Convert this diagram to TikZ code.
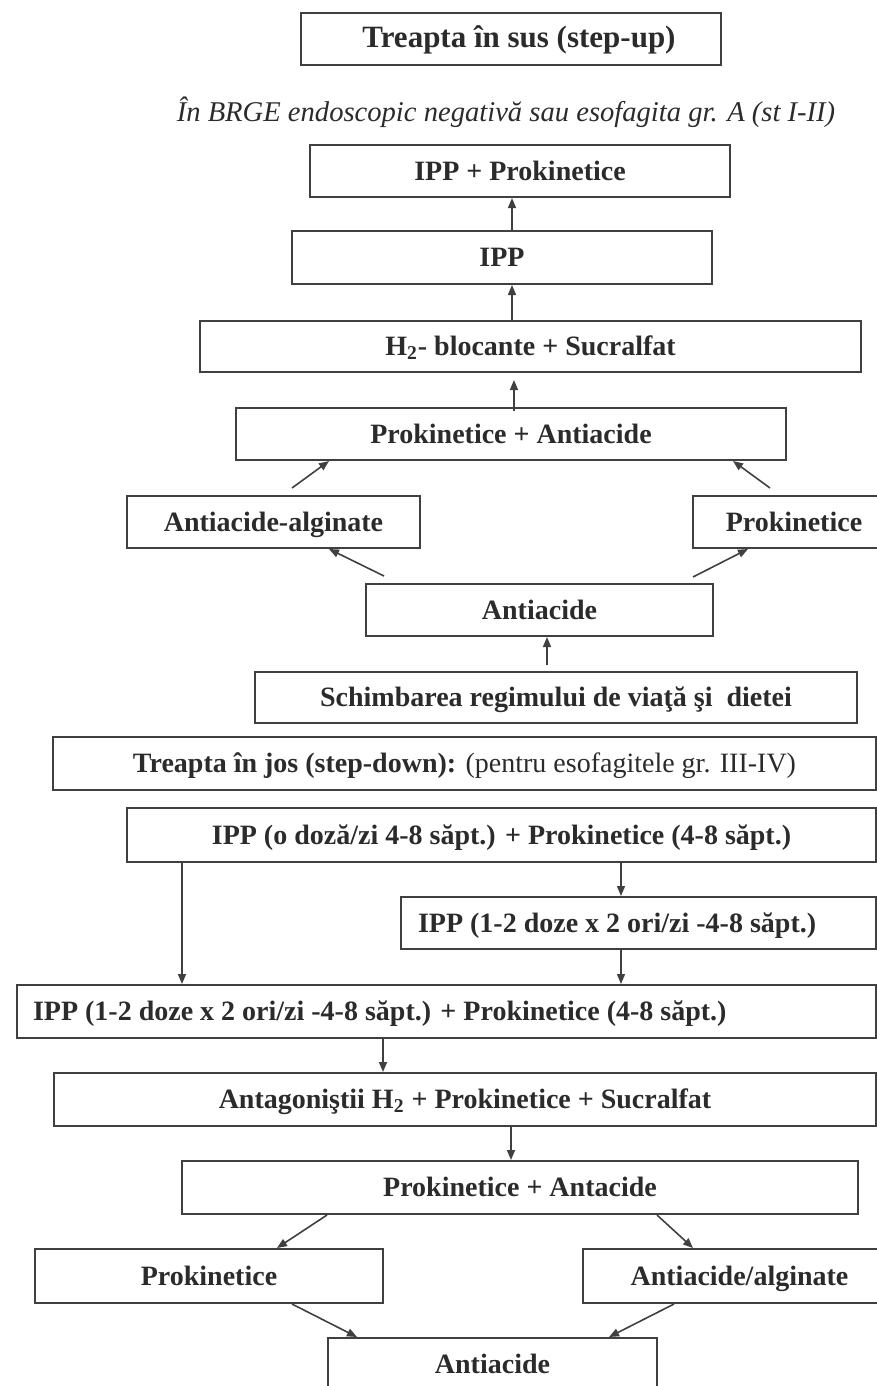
\documentclass[tikz,border=0pt]{standalone}
\usepackage{fontspec}
\setmainfont{Liberation Serif}
\usetikzlibrary{positioning,calc,arrows.meta}
\definecolor{boxline}{HTML}{404040}
\definecolor{boxtext}{HTML}{2B2B2B}

\begin{document}
\begin{tikzpicture}[
    x=0.5pt, y=-0.5pt,
    box/.style={draw=boxline, line width=1pt, inner sep=0pt, minimum height=26pt, text height=9.5pt, text depth=0.5pt, text=boxtext, font=\fontsize{14}{16}\selectfont\bfseries},
    note/.style={text=boxtext, font=\fontsize{14.3}{16}\selectfont\itshape},
    arr/.style={draw=boxline, line width=0.8pt, -{Triangle[length=5pt,width=4pt]}}
  ]
  \useasboundingbox (0,0) rectangle (877,1386);

  % step-up
  \node (up) [box, minimum width=210pt, font=\fontsize{15.5}{18}\selectfont\bfseries] at (511,39) {\hspace*{8pt}Treapta în sus (step-up)};
  \node (upnote) [note] at (506,112) {În BRGE endoscopic negativă sau esofagita gr. A (st I-II)};

  \node (n1) [box, minimum width=210pt] at (520,171) {IPP + Prokinetice};
  \node (n2) [box, minimum width=210pt, minimum height=26.5pt] at (502,257.5) {IPP};
  \node (n3) [box, minimum width=330.5pt, minimum height=25.5pt] at (530.5,346.5) {H\textsubscript{2}- blocante + Sucralfat};
  \node (n4) [box, minimum width=275pt] at (511,434) {Prokinetice + Antiacide};
  \node (n5a) [box, minimum width=146.5pt] at (273.5,522) {Antiacide-alginate};
  \node (n5b) [box, minimum width=101pt] at (794,522) {Prokinetice};
  \node (n6) [box, minimum width=173.5pt] at (539.5,610) {Antiacide};
  \node (n7) [box, minimum width=301pt, minimum height=25.5pt] at (556,697.5) {Schimbarea regimului de viaţă şi \ dietei};

  \draw[arr] ($(n2.north)+(10,0)$) -- ($(n1.south)+(-8,0)$);
  \draw[arr] ($(n3.north)+(-18.5,0)$) -- ($(n2.south)+(10,0)$);
  \draw[arr] ($(n4.north)+(3,4)$) -- ($(n3.south)+(-16.5,7)$);
  \draw[arr] ($(n5a.north)+(18.5,-7)$) -- ($(n4.south)+(-182,0)$);
  \draw[arr] ($(n5b.north)+(-24,-7)$) -- ($(n4.south)+(222,0)$);
  \draw[arr] ($(n6.north)+(-155.5,-7)$) -- ($(n5a.south)+(55.5,0)$);
  \draw[arr] ($(n6.north)+(153.5,-6)$) -- ($(n5b.south)+(-46,0)$);
  \draw[arr] ($(n7.north)+(-9,-6)$) -- ($(n6.south)+(7.5,0)$);

  % step-down
  \node (d0) [box, minimum width=411.5pt, minimum height=26.5pt] at (464.5,763.5) {Treapta în jos (step-down): {\mdseries (pentru esofagitele gr. III-IV)}};
  \node (d1) [box, minimum width=374.5pt, minimum height=27pt] at (501.5,835) {IPP (o doză/zi 4-8 săpt.) + Prokinetice (4-8 săpt.)};
  \node (d2) [box, minimum width=237.5pt, minimum height=26pt] at (638.5,923) {\makebox[220.5pt][l]{IPP (1-2 doze x 2 ori/zi -4-8 săpt.)}};
  \node (d3) [box, minimum width=429.5pt, minimum height=26.5pt] at (446.5,1011.5) {\makebox[413.5pt][l]{IPP (1-2 doze x 2 ori/zi -4-8 săpt.) + Prokinetice (4-8 săpt.)}};
  \node (d4) [box, minimum width=411pt, minimum height=26.5pt] at (465,1099.5) {Antagoniştii H\textsubscript{2} + Prokinetice + Sucralfat};
  \node (d5) [box, minimum width=338pt, minimum height=26.5pt] at (520,1187.5) {Prokinetice + Antacide};
  \node (d6) [box, minimum width=174pt, minimum height=27pt] at (209,1276) {Prokinetice};
  \node (d7) [box, minimum width=156.5pt, minimum height=27pt] at (739.5,1276) {Antiacide/alginate};
  \node (d8) [box, minimum width=164.5pt] at (492.5,1364) {Antiacide};

  \draw[arr] ($(d1.south)+(119.5,0)$) -- ($(d2.north)+(-17.5,0)$);
  \draw[arr] ($(d1.south)+(-319.5,0)$) -- ($(d3.north)+(-264.5,0)$);
  \draw[arr] ($(d2.south)+(-17.5,0)$) -- ($(d3.north)+(174.5,0)$);
  \draw[arr] ($(d3.south)+(-63.5,0)$) -- ($(d4.north)+(-82,0)$);
  \draw[arr] ($(d4.south)+(46,0)$) -- ($(d5.north)+(-9,0)$);
  \draw[arr] ($(d5.south)+(-193,0)$) -- ($(d6.north)+(68,0)$);
  \draw[arr] ($(d5.south)+(137,0)$) -- ($(d7.north)+(-46.5,0)$);
  \draw[arr] ($(d6.south)+(83,0)$) -- ($(d8.north)+(-135.5,0)$);
  \draw[arr] ($(d7.south)+(-65.5,0)$) -- ($(d8.north)+(116.5,0)$);
\end{tikzpicture}
\end{document}
